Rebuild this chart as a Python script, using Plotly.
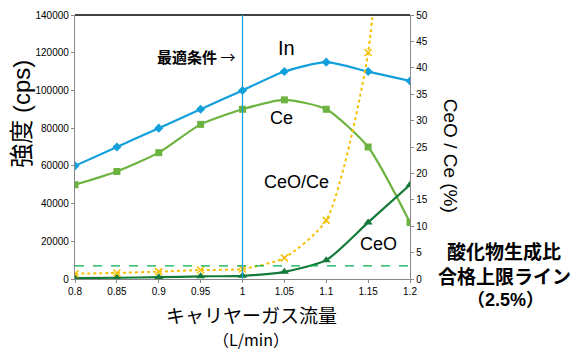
import plotly.graph_objects as go

flow = [0.8, 0.85, 0.9, 0.95, 1.0, 1.05, 1.1, 1.15, 1.2]
flow_labels = ["0.8", "0.85", "0.9", "0.95", "1", "1.05", "1.1", "1.15", "1.2"]
in_cps = [60000, 70000, 80000, 90000, 100000, 110000, 115000, 110000, 105000]
ce_cps = [50000, 57000, 67000, 82000, 90000, 95000, 90000, 70000, 30000]
ceo_cps = [500, 650, 950, 1400, 1700, 3800, 10000, 30000, 50000]
ceo_ce_pct = [1.0, 1.15, 1.4, 1.7, 1.9, 4.0, 11.1, 42.9, 166.7]
limit_pct = 2.5
left_ticks = [0, 20000, 40000, 60000, 80000, 100000, 120000, 140000]
right_ticks = [0, 5, 10, 15, 20, 25, 30, 35, 40, 45, 50]

JP = "Noto Sans CJK JP"
LAT = "Liberation Sans"
MIX = "Liberation Sans, Noto Sans CJK JP"

fig = go.Figure()
fig.add_trace(go.Scatter(x=flow, y=in_cps, mode="lines+markers", line=dict(color="#12a0dc", width=2.2, shape="spline", smoothing=0.6),
                         marker=dict(symbol="diamond", size=7, color="#12a0dc")))
fig.add_trace(go.Scatter(x=flow, y=ce_cps, mode="lines+markers", line=dict(color="#6db33f", width=2.2, shape="spline", smoothing=0.6),
                         marker=dict(symbol="square", size=7, color="#6db33f")))
fig.add_trace(go.Scatter(x=flow, y=ceo_cps, mode="lines+markers", line=dict(color="#137a3a", width=2.2, shape="spline", smoothing=0.6),
                         marker=dict(symbol="triangle-up", size=8, color="#137a3a")))
fig.add_trace(go.Scatter(x=flow, y=ceo_ce_pct, mode="lines+markers", yaxis="y2",
                         line=dict(color="#f5c000", width=2, dash="dot", shape="spline", smoothing=0.6),
                         marker=dict(symbol="x-thin", size=7, color="#f5c000", line=dict(color="#f5c000", width=1.5))))
fig.add_trace(go.Scatter(x=[flow[0], flow[-1]], y=[limit_pct, limit_pct], mode="lines", yaxis="y2",
                         line=dict(color="#00b050", width=1.3, dash="dash")))

axis_common = dict(showgrid=False, zeroline=False, showline=True, linecolor="#888888", linewidth=1.3,
                   ticks="outside", ticklen=3, tickcolor="#888888",
                   tickfont=dict(family=LAT, size=10, color="black"))
fig.update_layout(
    width=580, height=353, margin=dict(l=75, r=170, t=9, b=74),
    paper_bgcolor="white", plot_bgcolor="white", showlegend=False,
    xaxis=dict(range=[0.8, 1.2], tickvals=flow, ticktext=flow_labels, **axis_common),
    yaxis=dict(range=[0, 140000], tickvals=left_ticks, tickformat="d", **axis_common),
    yaxis2=dict(range=[0, 50], tickvals=right_ticks, overlaying="y", side="right", **axis_common),
)

# top border and optimal condition line
fig.add_shape(type="line", xref="paper", yref="paper", x0=0, x1=1, y0=1, y1=1, line=dict(color="black", width=1.3))
fig.add_shape(type="line", xref="x", yref="paper", x0=1.0, x1=1.0, y0=0, y1=1, line=dict(color="#12a0dc", width=1.2))

ann = [
    dict(text="強度 (cps)", x=22, y=110, size=24, family=MIX, angle=-90),
    dict(text="CeO / Ce (%)", x=450, y=153, size=19, family=LAT, angle=90),
    dict(text="キャリヤーガス流量", x=251, y=315, size=19, family=JP),
    dict(text="（L/min）", x=251, y=340, size=16, family=JP),
    dict(text="<b>最適条件</b> →", x=196, y=51, size=15, family=JP),
    dict(text="In", x=286, y=43, size=20, family=LAT),
    dict(text="Ce", x=281, y=114, size=18, family=LAT),
    dict(text="CeO/Ce", x=296, y=180, size=18, family=LAT),
    dict(text="CeO", x=378, y=243, size=18, family=LAT),
    dict(text="<b>酸化物生成比</b>", x=504, y=250, size=19, family=JP),
    dict(text="<b>合格上限ライン</b>", x=504, y=275, size=19, family=JP),
    dict(text="<b>（2.5%）</b>", x=505, y=300, size=18, family=MIX),
]
pw, ph = 580 - 75 - 170, 353 - 9 - 74
for a in ann:
    fig.add_annotation(text=a["text"], x=(a["x"] - 75) / pw, y=1 - (a["y"] - 9) / ph, xref="paper", yref="paper",
                       xanchor="center", yanchor="middle", showarrow=False, textangle=a.get("angle", 0),
                       font=dict(family=a["family"], size=a["size"], color="black"))

fig.write_html("out.html")
